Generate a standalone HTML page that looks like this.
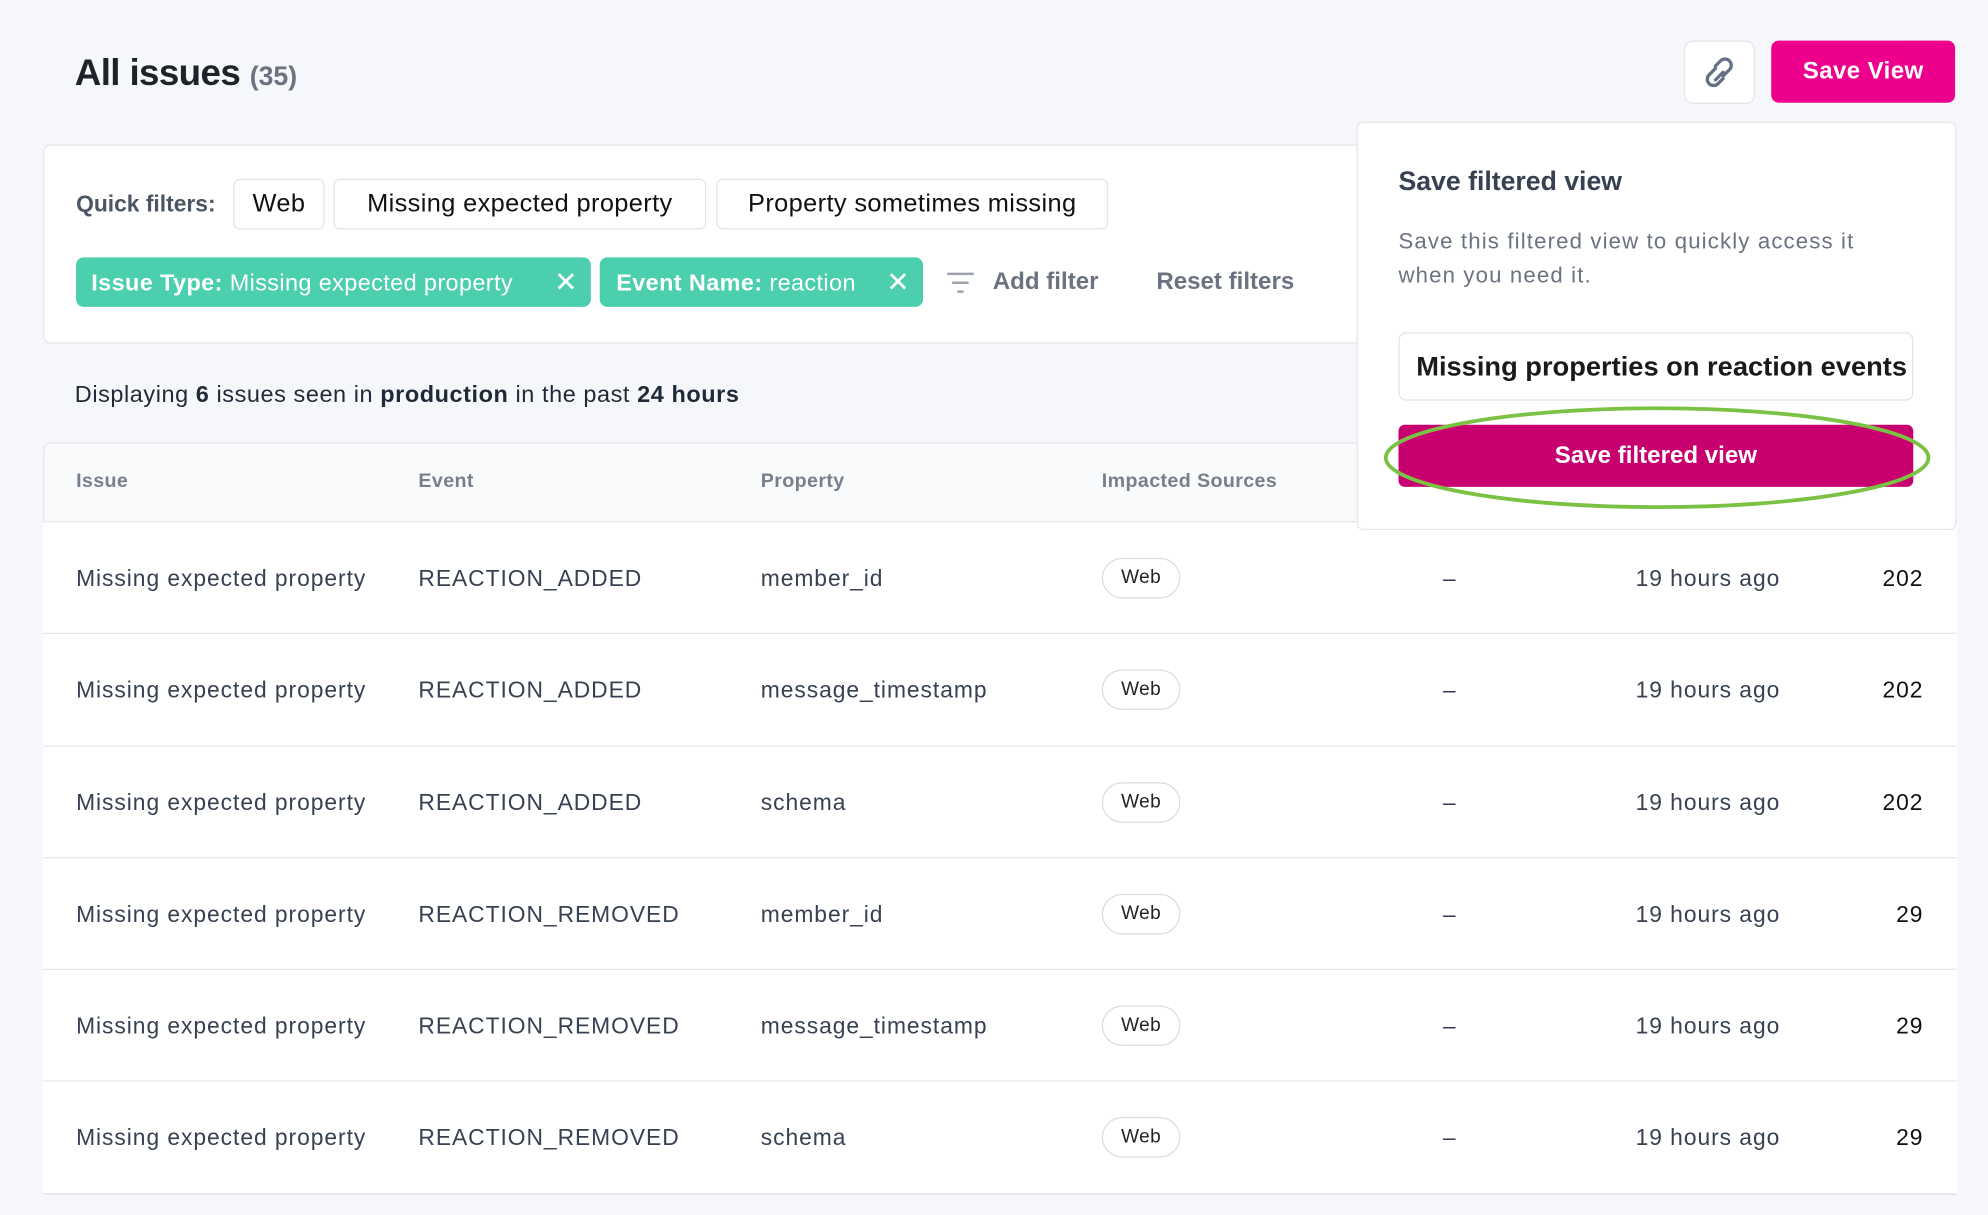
<!DOCTYPE html>
<html><head><meta charset="utf-8"><style>
html,body{margin:0;padding:0;background:#f6f7fa;}
body{width:1988px;height:1214px;overflow:hidden;position:relative;font-family:"Liberation Sans",Arial,sans-serif;}
#w{position:absolute;left:0;top:0;width:1568px;height:958px;transform:scale(1.2679);transform-origin:0 0;}
.a{position:absolute;white-space:nowrap;}
.chip{position:absolute;top:141px;height:38px;border:1px solid #e2e4e8;border-radius:5px;background:#fff;font-size:20px;color:#111;line-height:38px;box-sizing:content-box;text-align:center;letter-spacing:0.3px;}
.tchip{position:absolute;top:203px;height:39px;border-radius:6px;background:#4bcfae;color:#fff;font-size:18.5px;line-height:39px;letter-spacing:0.3px;}
.row{position:absolute;left:34px;width:1509px;height:88px;background:#fff;border-top:1px solid #e5e7eb;font-size:18px;color:#374151;letter-spacing:0.75px;}
.row .a{top:0;line-height:88px;}
.pill{position:absolute;left:835px;top:28px;width:60px;height:30px;border:1px solid #d9dce1;border-radius:16px;font-size:15px;line-height:30px;text-align:center;color:#222;letter-spacing:0.3px;}
.hd{position:absolute;top:371px;font-size:15.5px;color:#6b7280;font-weight:bold;opacity:0.9;letter-spacing:0.3px;}
</style></head><body><div id="w">
<div class="a" style="left:59px;top:42px;font-size:29px;font-weight:bold;color:#1f2329;letter-spacing:-0.5px;">All issues <span style="font-size:21px;color:#6b7280;font-weight:bold;letter-spacing:0">(35)</span></div>
<div class="a" style="left:1328px;top:32px;width:54px;height:48px;border:1px solid #e3e5e9;border-radius:7px;background:#fff;">
<svg width="54" height="48" viewBox="0 0 54 48"><g fill="none" stroke="#667085" stroke-width="2.6" stroke-linecap="round"><path d="M24 21 l-5 5 a4.5 4.5 0 0 0 7 7 l4-4"/><path d="M30 27 l5-5 a4.5 4.5 0 0 0 -7-7 l-4 4"/><path d="M24 30 l6-6"/></g></svg></div>
<div class="a" style="left:1397px;top:32px;width:145px;height:49px;background:#ec008c;border-radius:6px;color:#fff;font-size:19px;font-weight:bold;line-height:49px;text-align:center;letter-spacing:0.3px;">Save View</div>

<div class="a" style="left:34px;top:114px;width:1040px;height:155px;background:#fff;border:1px solid #e5e7eb;border-radius:6px;"></div>
<div class="a" style="left:60px;top:151px;font-size:18px;font-weight:bold;color:#4b5563;">Quick filters:</div>
<div class="chip" style="left:184px;width:70px;">Web</div>
<div class="chip" style="left:263px;width:292px;">Missing expected property</div>
<div class="chip" style="left:565px;width:307px;">Property sometimes missing</div>
<div class="tchip" style="left:60px;width:406px;"><span style="position:absolute;left:12px;"><b>Issue Type:</b> Missing expected property</span><span style="position:absolute;left:377px;font-size:22px;">✕</span></div>
<div class="tchip" style="left:473px;width:255px;"><span style="position:absolute;left:13px;"><b>Event Name:</b> reaction</span><span style="position:absolute;left:226px;font-size:22px;">✕</span></div>
<svg class="a" style="left:747px;top:213px" width="22" height="22"><g stroke="#9ca3af" stroke-width="2"><line x1="0" y1="3" x2="21" y2="3"/><line x1="4" y1="10" x2="17" y2="10"/><line x1="8" y1="17" x2="13" y2="17"/></g></svg>
<div class="a" style="left:783px;top:212px;font-size:19px;font-weight:bold;color:#6b7280;">Add filter</div>
<div class="a" style="left:912px;top:212px;font-size:19px;font-weight:bold;color:#6b7280;">Reset filters</div>

<div class="a" style="left:59px;top:300px;font-size:18.5px;color:#1f2937;letter-spacing:0.45px;">Displaying <b>6</b> issues seen in <b>production</b> in the past <b>24 hours</b></div>

<div class="a" style="left:34px;top:349px;width:1509px;height:592px;border:1px solid #e5e7eb;border-right:none;border-radius:6px 0 0 6px;background:#f9fafb;overflow:hidden;"></div>
<div class="hd" style="left:60px;">Issue</div>
<div class="hd" style="left:330px;">Event</div>
<div class="hd" style="left:600px;">Property</div>
<div class="hd" style="left:869px;">Impacted Sources</div>

<div class="row" style="top:411px;"><span class="a" style="left:26px">Missing expected property</span><span class="a" style="left:296px">REACTION_ADDED</span><span class="a" style="left:566px">member_id</span><span class="pill">Web</span><span class="a" style="left:1104px">–</span><span class="a" style="left:1256px">19 hours ago</span><span class="a" style="right:26px;color:#111">202</span></div>
<div class="row" style="top:499px;"><span class="a" style="left:26px">Missing expected property</span><span class="a" style="left:296px">REACTION_ADDED</span><span class="a" style="left:566px">message_timestamp</span><span class="pill">Web</span><span class="a" style="left:1104px">–</span><span class="a" style="left:1256px">19 hours ago</span><span class="a" style="right:26px;color:#111">202</span></div>
<div class="row" style="top:588px;"><span class="a" style="left:26px">Missing expected property</span><span class="a" style="left:296px">REACTION_ADDED</span><span class="a" style="left:566px">schema</span><span class="pill">Web</span><span class="a" style="left:1104px">–</span><span class="a" style="left:1256px">19 hours ago</span><span class="a" style="right:26px;color:#111">202</span></div>
<div class="row" style="top:676px;"><span class="a" style="left:26px">Missing expected property</span><span class="a" style="left:296px">REACTION_REMOVED</span><span class="a" style="left:566px">member_id</span><span class="pill">Web</span><span class="a" style="left:1104px">–</span><span class="a" style="left:1256px">19 hours ago</span><span class="a" style="right:26px;color:#111">29</span></div>
<div class="row" style="top:764px;"><span class="a" style="left:26px">Missing expected property</span><span class="a" style="left:296px">REACTION_REMOVED</span><span class="a" style="left:566px">message_timestamp</span><span class="pill">Web</span><span class="a" style="left:1104px">–</span><span class="a" style="left:1256px">19 hours ago</span><span class="a" style="right:26px;color:#111">29</span></div>
<div class="row" style="top:852px;border-bottom:1px solid #e5e7eb;"><span class="a" style="left:26px">Missing expected property</span><span class="a" style="left:296px">REACTION_REMOVED</span><span class="a" style="left:566px">schema</span><span class="pill">Web</span><span class="a" style="left:1104px">–</span><span class="a" style="left:1256px">19 hours ago</span><span class="a" style="right:26px;color:#111">29</span></div>

<div class="a" style="left:1070px;top:96px;width:471px;height:320px;background:#fff;border:1px solid #e5e7eb;border-radius:5px;"></div>
<div class="a" style="left:1103px;top:132px;font-size:21px;font-weight:bold;color:#374151;">Save filtered view</div>
<div class="a" style="left:1103px;top:177px;font-size:17.5px;color:#6b7280;line-height:27px;letter-spacing:0.9px;">Save this filtered view to quickly access it<br>when you need it.</div>
<div class="a" style="left:1103px;top:262px;width:404px;height:52px;border:1px solid #e2e4e8;border-radius:6px;background:#fff;overflow:hidden;"><span class="a" style="left:13px;top:14px;font-size:21.5px;font-weight:bold;color:#1a1a1a;">Missing properties on reaction events</span></div>
<div class="a" style="left:1103px;top:335px;width:406px;height:49px;background:#c8006f;border-radius:5px;color:#fff;font-size:19px;font-weight:bold;line-height:49px;text-align:center;">Save filtered view</div>
<svg class="a" style="left:1085px;top:315px" width="445" height="95"><ellipse cx="222" cy="46" rx="214" ry="39" fill="none" stroke="#7bc143" stroke-width="3"/></svg>
</div></body></html>
